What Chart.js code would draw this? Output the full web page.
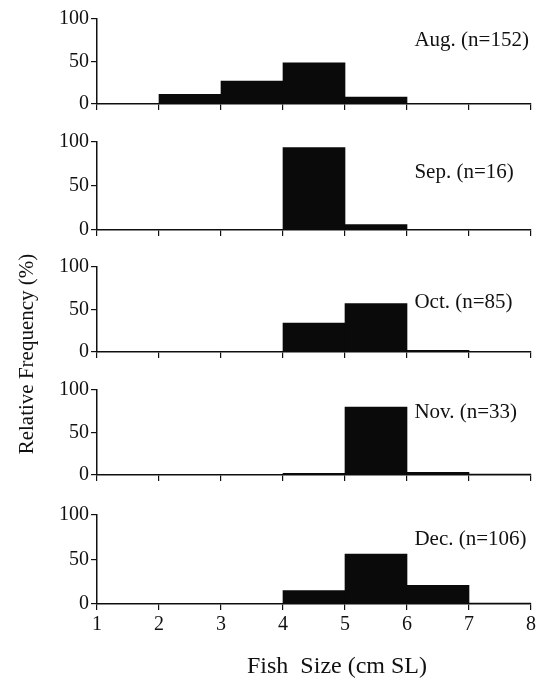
<!DOCTYPE html>
<html>
<head>
<meta charset="utf-8">
<script src="https://cdn.jsdelivr.net/npm/chart.js@4/dist/chart.umd.min.js"></script>
<style>
  html, body { margin: 0; padding: 0; background: #fff; overflow: hidden; }
  body { width: 541px; height: 678px; position: relative; }
  canvas { position: absolute; left: 0; }
</style>
</head>
<body>
<canvas id="titles" width="541" height="678" style="top:0"></canvas>
<div id="wrap"></div>
<script>
// size classes (cm SL), bins centred on the half units
const binCenters = [1.5, 2.5, 3.5, 4.5, 5.5, 6.5, 7.5];
const months = ['Aug. (n=152)', 'Sep. (n=16)', 'Oct. (n=85)', 'Nov. (n=33)', 'Dec. (n=106)'];

const aug = [0, 11.5, 27, 48.5, 8, 0, 0];
const sep = [0, 0, 0, 93.75, 6.25, 0, 0];
const oct = [0, 0, 0, 34, 57, 2, 0];
const nov = [0, 0, 0, 2, 80, 3, 1];
const dec = [0, 0, 0, 15, 56, 21, 1];

const xTicks = [1, 2, 3, 4, 5, 6, 7, 8];
const yTicks = [0, 50, 100];

const series = [aug, sep, oct, nov, dec];

// layout of each panel (pixel rows of 100 and 0)
const panelTop = [17, 140, 265, 388, 513];
const panelBottom = [110, 236, 358, 481, 604];
const labelDy = [21, 30, 35, 22, 24];
const padTop = 12;

const ink = '#111';
const serif = 'Liberation Serif';

// shared axis titles
const tctx = document.getElementById('titles').getContext('2d');
tctx.fillStyle = ink;
tctx.textAlign = 'center';
tctx.textBaseline = 'middle';
tctx.font = '24px "' + serif + '"';
tctx.fillText('Fish  Size (cm SL)', 337, 667);
tctx.save();
tctx.translate(27, 354);
tctx.rotate(-Math.PI / 2);
tctx.font = '21px "' + serif + '"';
tctx.fillText('Relative Frequency (%)', 0, 0);
tctx.restore();

const panelLabel = {
  id: 'panelLabel',
  afterDraw(chart, args, opts) {
    const { ctx, chartArea, scales } = chart;
    ctx.save();
    ctx.font = '21px "' + serif + '"';
    ctx.fillStyle = ink;
    ctx.textAlign = 'left';
    ctx.textBaseline = 'middle';
    ctx.fillText(opts.text, scales.x.getPixelForValue(6.12), chartArea.top + opts.dy);
    ctx.restore();
  }
};

const wrap = document.getElementById('wrap');

series.forEach((vals, i) => {
  const last = i === series.length - 1;
  const xh = last ? 40 : 8;
  const h = padTop + (panelBottom[i] - panelTop[i]) + xh;

  const canvas = document.createElement('canvas');
  canvas.width = 541;
  canvas.height = h;
  canvas.style.top = (panelTop[i] - padTop) + 'px';
  wrap.appendChild(canvas);

  new Chart(canvas.getContext('2d'), {
    type: 'bar',
    data: {
      datasets: [{
        data: binCenters.map((x, k) => ({ x, y: vals[k] })),
        backgroundColor: '#0a0a0a',
        borderWidth: 0,
        barPercentage: 1,
        categoryPercentage: 1
      }]
    },
    options: {
      responsive: false,
      animation: false,
      layout: { padding: { top: padTop, right: 10, left: 0, bottom: 0 } },
      plugins: {
        legend: { display: false },
        tooltip: { enabled: false },
        panelLabel: { text: months[i], dy: labelDy[i] }
      },
      scales: {
        x: {
          type: 'linear',
          min: 1,
          max: 8,
          offset: false,
          afterBuildTicks: (s) => { s.ticks = xTicks.map(v => ({ value: v })); },
          afterFit: (s) => { s.height = xh; },
          ticks: {
            display: last,
            color: ink,
            padding: 3,
            font: { family: serif, size: 20 }
          },
          grid: { offset: false, drawOnChartArea: false, drawTicks: true, tickLength: 6, color: ink, lineWidth: 1.2 },
          border: { display: true, color: ink, width: 1.5 }
        },
        y: {
          min: 0,
          max: 100,
          afterBuildTicks: (s) => { s.ticks = yTicks.map(v => ({ value: v })); },
          afterFit: (s) => { s.width = 97; },
          ticks: { color: ink, padding: 2, font: { family: serif, size: 20 } },
          grid: { drawOnChartArea: false, drawTicks: true, tickLength: 6, color: ink, lineWidth: 1.2 },
          border: { display: true, color: ink, width: 1.5 }
        }
      }
    },
    plugins: [panelLabel]
  });
});
</script>
</body>
</html>
